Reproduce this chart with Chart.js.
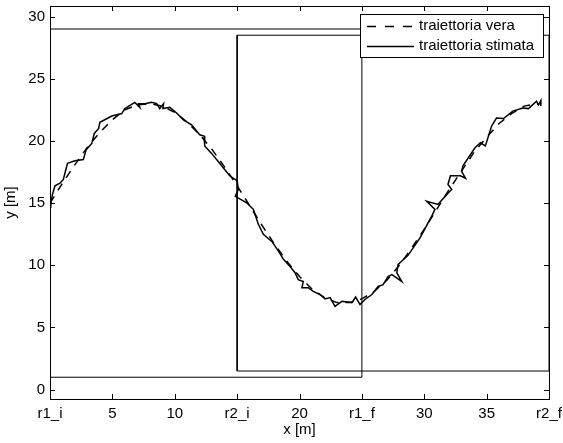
<!DOCTYPE html>
<html>
<head>
<meta charset="utf-8">
<script src="https://cdn.jsdelivr.net/npm/chart.js@4.4.0/dist/chart.umd.min.js"></script>
<style>
  html, body { margin: 0; padding: 0; background: #fff; }
</style>
</head>
<body>
<canvas id="myChart" width="563" height="443"></canvas>
<script>
// traiettoria vera (dashed)
var trueX = [0, 1, 2, 3, 4, 5, 6, 7, 8, 9, 10, 11, 12, 13, 14, 15, 16, 17, 18, 19, 20,
             21, 22, 23, 24, 25, 26, 27, 28, 29, 30, 31, 32, 33, 34, 35, 36, 37, 38, 39, 39.3];
var trueY = [15.0, 16.6, 18.1, 19.5, 20.7, 21.7, 22.5, 22.9, 23.0, 22.8, 22.3, 21.5, 20.5, 19.3, 17.9, 16.4,
             14.8, 13.2, 11.7, 10.3, 9.1, 8.1, 7.4, 7.0, 7.0, 7.3, 7.9, 8.8, 10.0, 11.4, 12.9, 14.5,
             16.1, 17.6, 19.1, 20.3, 21.4, 22.2, 22.8, 23.0, 23.0];

// traiettoria stimata (solid)
var estX = [0.05, 0.1, 0.2, 0.4, 0.8, 1.07, 1.4, 2.0, 2.67, 2.9, 3.35, 3.55, 3.9, 4.0, 4.95, 5.75, 6.0,
            6.8, 7.2, 7.1, 7.6, 8.15, 8.55, 8.8, 9.1, 9.05, 9.6, 10.15, 10.7, 11.35, 12.0, 12.35, 12.4,
            12.95, 13.6, 14.4, 15.0, 15.1, 14.85, 15.8, 16.3, 16.7, 17.1, 17.8, 18.4, 18.7, 19.24, 19.64,
            19.9, 20.3, 20.2, 20.7, 21.1, 21.65, 22.05, 22.45, 22.85, 23.4, 24.2, 24.5, 24.7, 24.85,
            25.25, 25.8, 26.3, 26.7, 27.1, 27.4, 28.2, 27.8, 27.9, 28.05, 28.7, 29.66, 30.6, 30.86,
            30.2, 31.1, 31.9, 32.2, 31.9, 32.1, 32.9, 33.3, 33.0, 33.1, 34.07, 34.5, 34.9, 35.4, 35.7,
            35.8, 36.35, 37.1, 37.9, 38.35, 39.0, 39.15, 39.35, 39.35];
var estY = [14.6, 15.2, 15.7, 16.4, 16.6, 16.9, 18.2, 18.4, 18.5, 19.3, 19.8, 20.6, 21.0, 21.5, 22.0, 22.2, 22.6,
            23.1, 22.7, 23.0, 23.0, 23.1, 23.0, 22.6, 23.0, 22.6, 22.7, 22.25, 21.7, 21.3, 20.5, 20.4, 19.6,
            19.0, 18.2, 17.2, 16.8, 16.1, 15.55, 15.0, 14.5, 13.3, 12.5, 11.9, 11.0, 10.5, 9.9, 9.4,
            8.85, 8.7, 8.2, 8.2, 7.9, 7.65, 7.3, 7.4, 6.7, 7.1, 7.0, 7.45, 7.1, 6.85,
            7.25, 7.65, 8.3, 8.45, 9.1, 9.25, 8.7, 9.4, 10.05, 10.2, 10.8, 12.2, 13.95, 14.5,
            15.15, 14.9, 15.8, 16.1, 16.5, 17.2, 17.2, 17.0, 17.55, 18.0, 19.45, 19.85, 19.6, 21.2, 21.7,
            21.85, 21.8, 22.4, 22.65, 22.6, 23.2, 22.9, 23.25, 22.8];

// regioni r1 e r2
var r1X = [0, 25, 25, 0, 0];
var r1Y = [1, 1, 29, 29, 1];
var r2X = [15, 40, 40, 15, 15];
var r2Y = [1.5, 1.5, 28.5, 28.5, 1.5];

var xTicks = [0, 5, 10, 15, 20, 25, 30, 35, 40];
var xTickLabels = ['r1_i', '5', '10', 'r2_i', '20', 'r1_f', '30', '35', 'r2_f'];
var yTicks = [0, 5, 10, 15, 20, 25, 30];

var legendLabels = ['traiettoria vera', 'traiettoria stimata'];

function pts(xs, ys) {
  var out = [];
  for (var i = 0; i < xs.length; i++) out.push({x: xs[i], y: ys[i]});
  return out;
}

var FONT = '15px "Liberation Sans", Arial, sans-serif';

var boxPlugin = {
  id: 'boxPlugin',
  afterDatasetsDraw: function(chart) {
    var ctx = chart.ctx, a = chart.chartArea;
    var xs = chart.scales.x, ys = chart.scales.y;
    ctx.save();
    ctx.strokeStyle = '#000';
    ctx.lineWidth = 1;
    ctx.strokeRect(Math.round(a.left) + 0.5, Math.round(a.top) + 0.5,
                   Math.round(a.right - a.left), Math.round(a.bottom - a.top));
    ctx.beginPath();
    xTicks.forEach(function(v) {
      var p = Math.round(xs.getPixelForValue(v)) + 0.5;
      ctx.moveTo(p, a.bottom); ctx.lineTo(p, a.bottom - 5);
      ctx.moveTo(p, a.top); ctx.lineTo(p, a.top + 5);
    });
    yTicks.forEach(function(v) {
      var p = Math.round(ys.getPixelForValue(v)) + 0.5;
      ctx.moveTo(a.left, p); ctx.lineTo(a.left + 5, p);
      ctx.moveTo(a.right, p); ctx.lineTo(a.right - 5, p);
    });
    ctx.stroke();
    ctx.restore();
  },
  afterDraw: function(chart) {
    // legenda in alto a destra
    var ctx = chart.ctx;
    ctx.save();
    ctx.fillStyle = '#fff';
    ctx.fillRect(360, 14, 183, 43);
    ctx.strokeStyle = '#000';
    ctx.lineWidth = 1;
    ctx.strokeRect(360.5, 14.5, 183, 43);
    ctx.lineWidth = 1.5;
    ctx.beginPath();
    ctx.setLineDash([9, 9]);
    ctx.moveTo(367, 26.5); ctx.lineTo(414, 26.5);
    ctx.stroke();
    ctx.setLineDash([]);
    ctx.beginPath();
    ctx.moveTo(367, 46.5); ctx.lineTo(414, 46.5);
    ctx.stroke();
    ctx.fillStyle = '#000';
    ctx.font = FONT;
    ctx.textBaseline = 'middle';
    ctx.fillText(legendLabels[0], 419, 26);
    ctx.fillText(legendLabels[1], 419, 46);
    ctx.restore();
  }
};

var ctx = document.getElementById('myChart').getContext('2d');
var myChart = new Chart(ctx, {
  type: 'scatter',
  data: {
    datasets: [{
      label: 'r1',
      data: pts(r1X, r1Y),
      showLine: true, borderColor: '#000', borderWidth: 1, pointRadius: 0
    }, {
      label: 'r2',
      data: pts(r2X, r2Y),
      showLine: true, borderColor: '#000', borderWidth: 1, pointRadius: 0
    }, {
      label: legendLabels[0],
      data: pts(trueX, trueY),
      showLine: true, borderColor: '#000', borderWidth: 1.5, borderDash: [8, 7], pointRadius: 0
    }, {
      label: legendLabels[1],
      data: pts(estX, estY),
      showLine: true, borderColor: '#000', borderWidth: 1.5, pointRadius: 0
    }]
  },
  options: {
    responsive: false,
    animation: false,
    layout: { padding: { top: 6, right: 14, left: 0, bottom: 0 } },
    plugins: { legend: { display: false }, tooltip: { enabled: false } },
    scales: {
      x: {
        type: 'linear', min: 0, max: 40,
        grid: { display: false, drawTicks: false },
        border: { display: false },
        afterBuildTicks: function(axis) { axis.ticks = xTicks.map(function(v) { return {value: v}; }); },
        afterFit: function(axis) { axis.height = 44; axis.paddingLeft = 0; axis.paddingRight = 0; },
        ticks: {
          color: '#000', font: { family: '"Liberation Sans", Arial, sans-serif', size: 15 },
          padding: 6, maxRotation: 0, autoSkip: false,
          callback: function(v) { return xTickLabels[xTicks.indexOf(v)]; }
        },
        title: {
          display: true, text: 'x [m]', color: '#000', padding: { top: 0, bottom: 4 },
          font: { family: '"Liberation Sans", Arial, sans-serif', size: 15 }
        }
      },
      y: {
        type: 'linear', min: -0.75, max: 30.85,
        grid: { display: false, drawTicks: false },
        border: { display: false },
        afterBuildTicks: function(axis) { axis.ticks = yTicks.map(function(v) { return {value: v}; }); },
        afterFit: function(axis) { axis.width = 50; axis.paddingTop = 0; axis.paddingBottom = 0; },
        ticks: {
          color: '#000', font: { family: '"Liberation Sans", Arial, sans-serif', size: 15 },
          padding: 5, autoSkip: false
        },
        title: {
          display: true, text: 'y [m]', color: '#000', padding: { top: 2, bottom: 0 },
          font: { family: '"Liberation Sans", Arial, sans-serif', size: 15 }
        }
      }
    }
  },
  plugins: [boxPlugin]
});
</script>
</body>
</html>
